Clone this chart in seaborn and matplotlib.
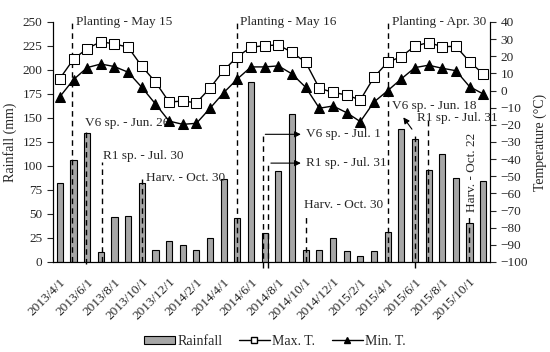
import numpy as np
import pandas as pd
import matplotlib
matplotlib.use("Agg")
import matplotlib.pyplot as plt
import seaborn as sns
from matplotlib.patches import Patch
from matplotlib.lines import Line2D

# monthly data, 2013/4 .. 2015/11
months = [f"{y}/{m}/1" for y, m in
          [(2013, m) for m in range(4, 13)] + [(2014, m) for m in range(1, 13)] + [(2015, m) for m in range(1, 12)]]
rainfall = [82, 106, 134, 10, 47, 48, 82, 12, 22, 18, 13, 25,
            86, 46, 188, 30, 95, 154, 13, 13, 25, 11, 6, 11,
            31, 139, 128, 96, 113, 87, 41, 84]
max_t = [7, 18.3, 24.5, 28.5, 27.2, 25.3, 14.2, 5, -6.7, -6.1, -7.1, 1.5,
         11.8, 19.8, 25.3, 26.2, 26.6, 22.3, 16.5, 1.3, -1.0, -2.6, -5.5, 7.8,
         16.5, 19.8, 26.0, 28.0, 25.6, 25.8, 16.8, 9.7]
min_t = [-3.6, 6.4, 13.4, 15.5, 14.0, 10.7, 1.9, -7.8, -17.8, -19.7, -19.1, -10.3,
         -1.2, 6.8, 13.8, 13.8, 14.4, 9.7, 1.9, -10.3, -9.0, -12.9, -18.1, -6.7,
         -0.1, 6.8, 13.4, 14.8, 13.0, 11.6, 2.3, -2.0]

df = pd.DataFrame({"month": months, "rain": rainfall, "tmax": max_t, "tmin": min_t})
df["pos"] = np.arange(len(df))

# dashed stage markers: x (month index), top, bottom (mm)
stage_lines = [(0.86, 250, 0), (1.9, 140, -2), (3.05, 104, 0), (5.99, 86, 0),
               (12.95, 250, 0), (14.84, 134, -6), (15.25, 103, -6), (18.03, 49, 0),
               (24.05, 250, 0), (25.97, 135, -6), (26.99, 150, 0), (29.98, 47, 0)]
# labels: text, x, y (mm)
stage_text = [("Planting - May 15", 1.16, 250), ("V6 sp. - Jun. 26", 1.85, 145),
              ("R1 sp. - Jul. 30", 3.18, 110), ("Harv. - Oct. 30", 6.3, 87),
              ("Planting - May 16", 13.17, 250), ("V6 sp. - Jul. 1", 18.05, 133),
              ("R1 sp. - Jul. 31", 18.05, 103), ("Harv. - Oct. 30", 17.9, 59),
              ("Planting - Apr. 30", 24.3, 250), ("V6 sp. - Jun. 18", 24.3, 163),
              ("R1 sp. - Jul. 31", 26.14, 150)]

sns.set_style("white")
plt.rcParams["font.family"] = ["Liberation Serif", "DejaVu Serif"]
fs = 9.5

fig = plt.figure(figsize=(5.5, 3.52), dpi=100)
ax = fig.add_axes([0.0964, 0.2557, 0.7946, 0.6818])

sns.barplot(data=df, x="month", y="rain", color="#a6a6a6", edgecolor="black",
            linewidth=0.8, width=0.45, saturation=1, ax=ax)
ax.set_ylim(0, 250)
ax.set_yticks(np.arange(0, 251, 25))
ax.set_xlim(-0.5, len(df) - 0.5)
ax.set_ylabel("Rainfall (mm)", fontsize=fs + 0.5)
ax.set_xlabel("")

# x labels every second month, ticks between categories
ax.set_xticks(df["pos"][::2])
ax.set_xticklabels(df["month"][::2], rotation=45, ha="right", rotation_mode="anchor", fontsize=fs)
ax.set_xticks(np.arange(-0.5, len(df), 2), minor=True)
ax.tick_params(axis="x", which="major", length=0, pad=10)
ax.tick_params(axis="x", which="minor", length=4, width=0.8, direction="out")
ax.tick_params(axis="y", labelsize=fs, length=4, width=0.8, direction="out")

ax2 = ax.twinx()
sns.lineplot(x=df["pos"], y=df["tmax"], ax=ax2, color="black", linewidth=1,
             marker="s", markersize=6.5, markerfacecolor="white", markeredgecolor="black")
sns.lineplot(x=df["pos"], y=df["tmin"], ax=ax2, color="black", linewidth=1,
             marker="^", markersize=6.5, markerfacecolor="black", markeredgecolor="black")
ax2.set_ylim(-100, 40)
ax2.set_yticks(np.arange(-100, 41, 10))
ax2.set_ylabel("Temperature (°C)", fontsize=fs + 0.5)
ax2.set_xlabel("")
ax2.set_xlim(-0.5, len(df) - 0.5)
ax2.tick_params(axis="y", labelsize=fs, length=4, width=0.8, direction="out")

for a in (ax, ax2):
    a.spines["top"].set_visible(False)
    for s in ("left", "right", "bottom"):
        a.spines[s].set_color("black")
        a.spines[s].set_linewidth(0.8)

for x, top, bot in stage_lines:
    ax.plot([x, x], [bot, top], ls=(0, (4, 3)), color="black", lw=1, clip_on=False, zorder=4)

for txt, x, y in stage_text:
    ax.text(x, y, txt, fontsize=fs, va="center", ha="left", zorder=5, clip_on=False)

ax.text(30.2, 93, "Harv. - Oct. 22", fontsize=fs, rotation=90, va="center", ha="center", zorder=5)

# arrows
arrow = dict(arrowstyle="-|>", color="black", lw=0.8, mutation_scale=9)
ax.annotate("", xy=(17.85, 133), xytext=(14.84, 133), arrowprops=arrow)
ax.annotate("", xy=(17.85, 103), xytext=(15.25, 103), arrowprops=arrow)
ax.annotate("", xy=(25.03, 153), xytext=(25.9, 136), arrowprops=arrow)

handles = [Patch(facecolor="#a6a6a6", edgecolor="black", linewidth=0.8, label="Rainfall"),
           Line2D([], [], color="black", lw=1, marker="s", markersize=4.5,
                  markerfacecolor="white", label="Max. T."),
           Line2D([], [], color="black", lw=1, marker="^", markersize=4.5, label="Min. T.")]
fig.legend(handles=handles, loc="center", bbox_to_anchor=(0.5, 0.03), ncol=3,
           frameon=False, fontsize=fs + 0.5, handlelength=2.2, handleheight=0.5,
           columnspacing=1.2, handletextpad=0.2)

plt.savefig("out.png", dpi=100)
